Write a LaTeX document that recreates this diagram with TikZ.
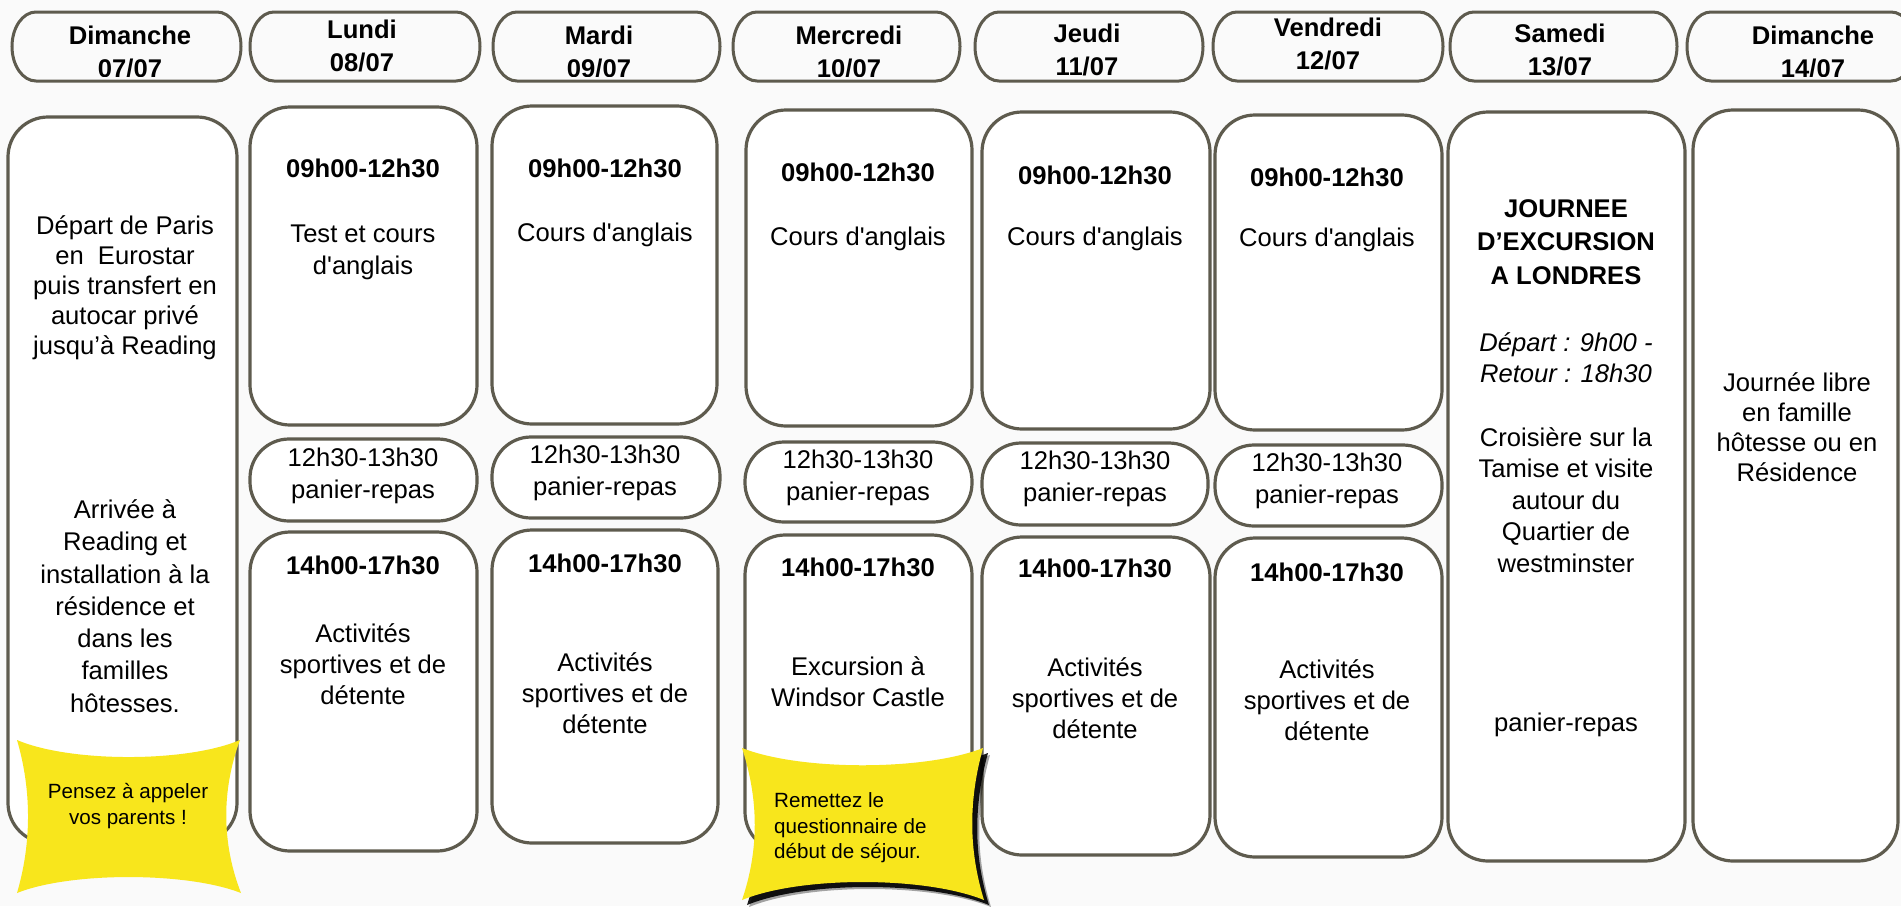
\documentclass[tikz,border=0pt]{standalone}
\usepackage{fontspec}
\setmainfont{Liberation Sans}[Ligatures=TeXOff]
\definecolor{edge}{RGB}{94,91,78}
\definecolor{bgc}{RGB}{250,250,250}
\definecolor{notey}{RGB}{248,230,28}
\newcommand\daytab[7]{%
  \draw[tabline] ({#2+24},12) -- ({#3-24},12) arc[start angle=-90, end angle=90, x radius=24, y radius=34.5]
     -- ({#2+24},81) arc[start angle=90, end angle=270, x radius=24, y radius=34.5] -- cycle;
  \coordinate (#1) at ({(#2+#3)/2},46.5);
  \begin{scope}
    \clip (#2,0) rectangle (#3,76);
    \node[hdr] (#1-day) at (#4,#5) {#6};
    \node[hdr] (#1-date) at (#4,{#5+33}) {#7};
  \end{scope}}
\newcommand\boxnode[6]{%
  \node[#6, minimum width={#4-#2}, minimum height={#5-#3}] (#1) at ({(#2+#4)/2},{(#3+#5)/2}) {};}
\begin{document}
\begin{tikzpicture}[x=1pt,y=-1pt,
  box/.style={draw=edge, line width=3.2pt, fill=white, rounded corners=40pt, inner sep=0pt, outer sep=0pt},
  lunchbox/.style={draw=edge, line width=3.2pt, fill=white, rounded corners=39pt, inner sep=0pt, outer sep=0pt},
  tabline/.style={draw=edge, line width=3pt},
  hdr/.style={font=\fontsize{25.6}{32}\selectfont\bfseries, inner sep=0pt, text height=18.5pt, text depth=0pt},
  ttl/.style={font=\fontsize{25.6}{32}\selectfont\bfseries, inner sep=0pt, text height=18.5pt, text depth=0pt},
  txt/.style={font=\fontsize{25.6}{32}\selectfont, align=center, inner sep=0pt},
  notetxt/.style={font=\fontsize{20.6}{25.5}\selectfont, inner sep=0pt},
]
\useasboundingbox (0,0) rectangle (1901,906);
\fill[bgc] (0,0) rectangle (1901,906);
\clip (0,0) rectangle (1901,906);

% header tabs
\daytab{t1}{12}{241}{130}{35}{Dimanche}{07/07}
\daytab{t2}{250}{480}{362}{29}{Lundi}{08/07}
\daytab{t3}{493}{720}{599}{35}{Mardi}{09/07}
\daytab{t4}{733}{960}{849}{35}{Mercredi}{10/07}
\daytab{t5}{975}{1203}{1087}{33}{Jeudi}{11/07}
\daytab{t6}{1213}{1443}{1328}{27}{Vendredi}{12/07}
\daytab{t7}{1450}{1677}{1560}{33}{Samedi}{13/07}
\daytab{t8}{1687}{1915}{1813}{35}{Dimanche}{14/07}

% boxes
\boxnode{b1}{8}{117}{237}{843}{box}
\boxnode{b2am}{250}{107}{477}{425}{box}
\boxnode{b2lu}{250}{439}{477}{521}{lunchbox}
\boxnode{b2pm}{250}{532}{477}{851}{box}
\boxnode{b3am}{492}{106}{717}{424}{box}
\boxnode{b3lu}{492}{437}{720}{518}{lunchbox}
\boxnode{b3pm}{492}{530}{718}{843}{box}
\boxnode{b4am}{746}{110}{972}{426}{box}
\boxnode{b4lu}{745}{442}{972}{522}{lunchbox}
\boxnode{b4pm}{745}{535}{972}{852}{box}
\boxnode{b5am}{982}{112}{1210}{429}{box}
\boxnode{b5lu}{982}{443}{1208}{525}{lunchbox}
\boxnode{b5pm}{982}{537}{1210}{855}{box}
\boxnode{b6am}{1215}{115}{1442}{430}{box}
\boxnode{b6lu}{1215}{445}{1442}{526}{lunchbox}
\boxnode{b6pm}{1215}{538}{1442}{857}{box}
\boxnode{b7}{1448}{112}{1685}{861}{box}
\boxnode{b8}{1693}{110}{1898}{861}{box}

% Dimanche 07/07
\node[txt, font=\fontsize{25.6}{30}\selectfont] (d1a) at (125,288) {Départ de Paris\\en~~Eurostar\\puis transfert en\\autocar privé\\jusqu’à Reading};
\node[txt, font=\fontsize{25.6}{32.3}\selectfont] (d1b) at (125,606) {Arrivée à\\Reading et\\installation à la\\résidence et\\dans les\\familles\\hôtesses.};

% Lundi
\node[ttl] (l-t1) at (363,168) {09h00-12h30};
\node[txt] (l-b1) at (363,252) {Test et cours\\d'anglais};
\node[txt] (l-lu) at (363,476) {12h30-13h30\\panier-repas};
\node[ttl] (l-t2) at (363,565) {14h00-17h30};
\node[txt, font=\fontsize{25.6}{31}\selectfont] (l-b2) at (363,664) {Activités\\sportives et de\\détente};

% Mardi
\node[ttl] (m-t1) at (605,168) {09h00-12h30};
\node[txt] (m-b1) at (605,235) {Cours d'anglais};
\node[txt] (m-lu) at (605,473) {12h30-13h30\\panier-repas};
\node[ttl] (m-t2) at (605,563) {14h00-17h30};
\node[txt, font=\fontsize{25.6}{31}\selectfont] (m-b2) at (605,693) {Activités\\sportives et de\\détente};

% Mercredi
\node[ttl] (w-t1) at (858,172) {09h00-12h30};
\node[txt] (w-b1) at (858,239) {Cours d'anglais};
\node[txt] (w-lu) at (858,478) {12h30-13h30\\panier-repas};
\node[ttl] (w-t2) at (858,567) {14h00-17h30};
\node[txt, font=\fontsize{25.6}{31}\selectfont] (w-b2) at (858,682) {Excursion à\\Windsor Castle};

% Jeudi
\node[ttl] (j-t1) at (1095,175) {09h00-12h30};
\node[txt] (j-b1) at (1095,239) {Cours d'anglais};
\node[txt] (j-lu) at (1095,479) {12h30-13h30\\panier-repas};
\node[ttl] (j-t2) at (1095,568) {14h00-17h30};
\node[txt, font=\fontsize{25.6}{31}\selectfont] (j-b2) at (1095,698) {Activités\\sportives et de\\détente};

% Vendredi
\node[ttl] (v-t1) at (1327,177) {09h00-12h30};
\node[txt] (v-b1) at (1327,240) {Cours d'anglais};
\node[txt] (v-lu) at (1327,481) {12h30-13h30\\panier-repas};
\node[ttl] (v-t2) at (1327,572) {14h00-17h30};
\node[txt, font=\fontsize{25.6}{31}\selectfont] (v-b2) at (1327,700) {Activités\\sportives et de\\détente};

% Samedi
\node[txt, font=\fontsize{25.6}{33.5}\selectfont\bfseries] (s-a) at (1566,242) {JOURNEE\\D’EXCURSION\\A LONDRES};
\node[txt, font=\fontsize{25.6}{31}\selectfont\itshape] (s-b) at (1566,358) {Départ : 9h00 -\\Retour : 18h30};
\node[txt, font=\fontsize{25.6}{31.5}\selectfont] (s-c) at (1566,500) {Croisière sur la\\Tamise et visite\\autour du\\Quartier de\\westminster};
\node[txt] (s-d) at (1566,725) {panier-repas};

% Dimanche 14/07
\node[txt, font=\fontsize{25.6}{30}\selectfont] (d2) at (1797,427) {Journée libre\\en famille\\hôtesse ou en\\Résidence};

% note 1
\fill[notey] (17,740) .. controls (70,762.7) and (187,762.7) .. (240,740)
  .. controls (221.5,790) and (221.5,843) .. (241,893)
  .. controls (187,871.7) and (70,871.7) .. (17,893)
  .. controls (31.7,843) and (31.7,790) .. (17,740) -- cycle;
\node[notetxt, align=center] (n1) at (128,806) {Pensez à appeler\\vos parents !};

% note 2 with shadow
\begin{scope}[shift={(7,7)}]
\fill[black, opacity=0.35] (742,748) .. controls (800,771) and (925,771) .. (983,748)
  .. controls (968.5,800) and (968.5,850) .. (984,900)
  .. controls (925,876) and (800,876) .. (742,900)
  .. controls (759,850) and (759,800) .. (742,748) -- cycle;
\end{scope}
\begin{scope}[shift={(5,5)}]
\fill[black, opacity=0.9] (742,748) .. controls (800,771) and (925,771) .. (983,748)
  .. controls (968.5,800) and (968.5,850) .. (984,900)
  .. controls (925,876) and (800,876) .. (742,900)
  .. controls (759,850) and (759,800) .. (742,748) -- cycle;
\end{scope}
\fill[notey] (742,748) .. controls (800,771) and (925,771) .. (983,748)
  .. controls (968.5,800) and (968.5,850) .. (984,900)
  .. controls (925,876) and (800,876) .. (742,900)
  .. controls (759,850) and (759,800) .. (742,748) -- cycle;
\node[notetxt, align=left, anchor=west] (n2) at (774,828) {Remettez le\\questionnaire de\\début de séjour.};
\end{tikzpicture}
\end{document}
